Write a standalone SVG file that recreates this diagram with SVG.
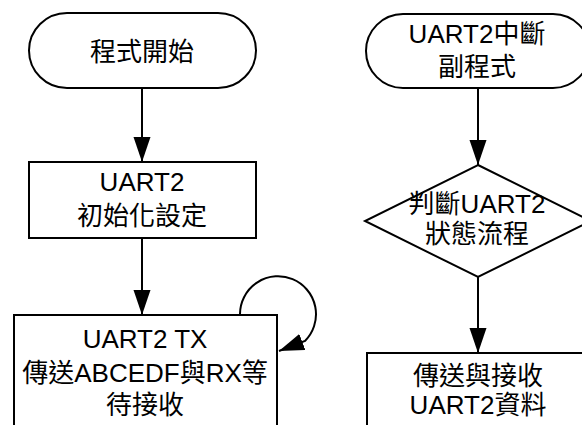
<svg xmlns="http://www.w3.org/2000/svg" width="582" height="425" viewBox="0 0 582 425">
<defs>
<style>
.s{fill:#fff;stroke:#000;stroke-width:2}
.c{fill:none;stroke:#000;stroke-width:2}
text{font-family:"Liberation Sans","Noto Sans CJK TC",sans-serif;font-size:26px;fill:#000;text-anchor:middle}
</style>
<marker id="ah" markerUnits="userSpaceOnUse" markerWidth="26" markerHeight="18" refX="25" refY="8.5" orient="auto">
<path d="M0,0 L25,8.5 L0,17 Z" fill="#000"/>
</marker>
</defs>
<rect width="582" height="425" fill="#fff"/>
<g id="connectors">
<path class="c" d="M142,88 V162" marker-end="url(#ah)"/>
<path class="c" d="M142,238 V315" marker-end="url(#ah)"/>
<path class="c" d="M240,314 A38,38 0 1 1 305,341 L279,351" marker-end="url(#ah)"/>
<path class="c" d="M478,88 V165" marker-end="url(#ah)"/>
<path class="c" d="M478,277 V353" marker-end="url(#ah)"/>
</g>
<g id="start">
<path class="s" d="M67,13 H218 A38,37.5 0 0 1 218,88 H67 A38,37.5 0 0 1 67,13 Z"/>
<text x="142" y="61">程式開始</text>
</g>
<g id="init">
<rect class="s" x="29" y="162" width="227" height="76"/>
<text x="142" y="191">UART2</text>
<text x="142" y="225">初始化設定</text>
</g>
<g id="txrx">
<rect class="s" x="14" y="315" width="263" height="130"/>
<text x="145" y="348">UART2 TX</text>
<text x="145" y="382">傳送ABCEDF與RX等</text>
<text x="145" y="414">待接收</text>
</g>
<g id="isr">
<path class="s" d="M403,14 H553 A37,37 0 0 1 553,88 H403 A37,37 0 0 1 403,14 Z"/>
<text x="477" y="43">UART2中斷</text>
<text x="477" y="76">副程式</text>
</g>
<g id="decision">
<polygon class="s" points="478,165 591,221 478,277 365,221"/>
<text x="477" y="213">判斷UART2</text>
<text x="477" y="243">狀態流程</text>
</g>
<g id="transfer">
<rect class="s" x="367" y="353" width="222" height="90"/>
<text x="478" y="385">傳送與接收</text>
<text x="478" y="414">UART2資料</text>
</g>
</svg>
